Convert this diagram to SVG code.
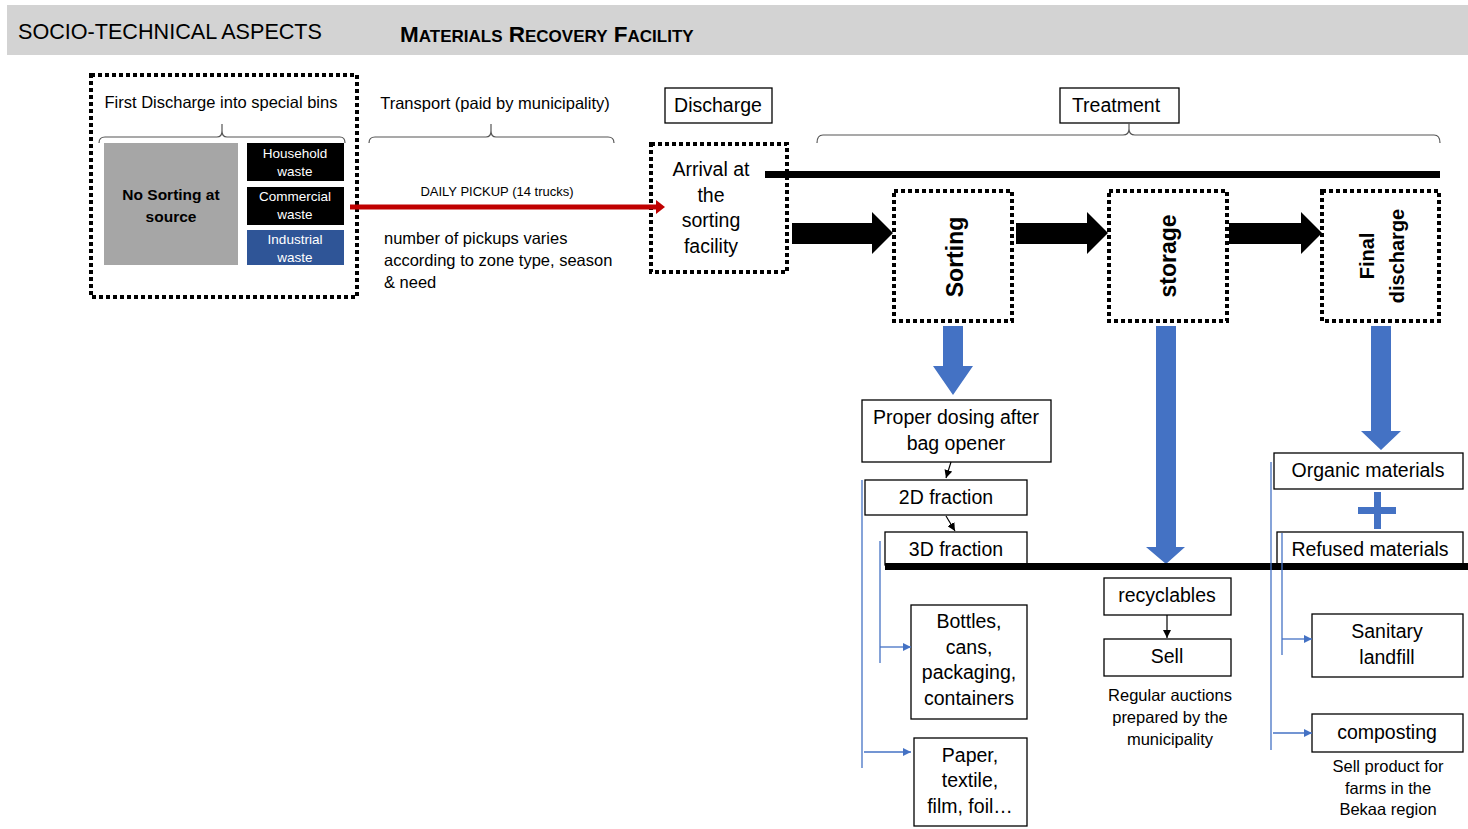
<svg xmlns="http://www.w3.org/2000/svg" width="1468" height="829" viewBox="0 0 1468 829">
<style>
text{font-family:"Liberation Sans",Arial,sans-serif;fill:#000}
.box{fill:#fff;stroke:#000;stroke-width:1.3}
.dot{fill:#fff;stroke:#000;stroke-width:4;stroke-dasharray:4 3}
.brace{fill:none;stroke:#555;stroke-width:1.2}
.t17{font-size:19.5px;text-anchor:middle}
.t14{font-size:16.5px;text-anchor:middle}
.w12{font-size:13.5px;text-anchor:middle;fill:#fff}
.vt{font-size:23px;font-weight:bold;text-anchor:middle}
.blue{fill:#4472c4}
.bl{stroke:#4472c4;stroke-width:1.3;fill:none}
.thin{stroke:#000;stroke-width:1.2;fill:none}
</style>
<defs>
<marker id="ba" viewBox="0 0 10 10" refX="10" refY="5" markerWidth="8" markerHeight="8" markerUnits="userSpaceOnUse" orient="auto"><path d="M0,0 L10,5 L0,10 z" fill="#4472c4"/></marker>
<marker id="ka" viewBox="0 0 10 10" refX="10" refY="5" markerWidth="8" markerHeight="8" markerUnits="userSpaceOnUse" orient="auto"><path d="M0,0 L10,5 L0,10 z" fill="#000"/></marker>
</defs>

<g id="header">
<rect x="7" y="5" width="1461" height="50" fill="#d3d3d3"/>
<text x="18" y="39" font-size="21.6">SOCIO-TECHNICAL ASPECTS</text>
<text x="400" y="42" font-weight="bold" font-size="22.5">M<tspan font-size="17">ATERIALS</tspan> R<tspan font-size="17">ECOVERY</tspan> F<tspan font-size="17">ACILITY</tspan></text>
</g>

<g id="source">
<rect class="dot" x="91" y="75" width="266" height="222"/>
<text class="t14" x="221" y="108">First Discharge into special bins</text>
<path class="brace" d="M99,143 Q99,137 105,137 H217 Q222,137 222,131 V124 M222,131 Q222,137 227,137 H340 Q345,137 345,143"/>
<rect x="104" y="143" width="134" height="122" fill="#a6a6a6"/>
<text x="171" y="200" font-size="15.5" font-weight="bold" text-anchor="middle">No Sorting at</text>
<text x="171" y="222" font-size="15.5" font-weight="bold" text-anchor="middle">source</text>
</g>
<g id="household"><rect x="247" y="143" width="97" height="38" fill="#000"/><text class="w12" x="295" y="158">Household</text><text class="w12" x="295" y="176">waste</text></g>
<g id="commercial"><rect x="247" y="187" width="97" height="38" fill="#000"/><text class="w12" x="295" y="201">Commercial</text><text class="w12" x="295" y="219">waste</text></g>
<g id="industrial"><rect x="247" y="230" width="97" height="35" fill="#2f5597"/><text class="w12" x="295" y="244">Industrial</text><text class="w12" x="295" y="262">waste</text></g>

<g id="transport">
<text class="t14" x="495" y="109">Transport (paid by municipality)</text>
<path class="brace" d="M369,143 Q369,137 375,137 H486 Q491,137 491,131 V124 M491,131 Q491,137 496,137 H608 Q614,137 614,143"/>
<text x="497" y="196" font-size="13" text-anchor="middle">DAILY PICKUP (14 trucks)</text>
<text x="384" y="244" font-size="16.5">number of pickups varies</text>
<text x="384" y="266" font-size="16.5">according to zone type, season</text>
<text x="384" y="288" font-size="16.5">&amp; need</text>
</g>

<g id="discharge"><rect class="box" x="665" y="88" width="107" height="35"/><text class="t17" x="718" y="112">Discharge</text></g>
<g id="arrival">
<rect class="dot" x="651" y="144" width="136" height="128"/>
<text class="t17" x="711" y="176">Arrival at</text>
<text class="t17" x="711" y="202">the</text>
<text class="t17" x="711" y="227">sorting</text>
<text class="t17" x="711" y="253">facility</text>
</g>

<g id="treatment">
<rect class="box" x="1060" y="88" width="119" height="35"/><text class="t17" x="1116" y="112">Treatment</text>
<path class="brace" d="M817,143 Q817,135 823,135 H1123 Q1129,135 1129,129 V123 M1129,129 Q1129,135 1135,135 H1434 Q1440,135 1440,143"/>
</g>

<g id="sorting"><rect class="dot" x="894" y="191" width="118" height="130"/><text class="vt" transform="translate(955,257) rotate(-90)" dominant-baseline="central">Sorting</text></g>
<g id="storage"><rect class="dot" x="1109" y="191" width="118" height="130"/><text class="vt" transform="translate(1168,256) rotate(-90)" dominant-baseline="central">storage</text></g>
<g id="final"><rect class="dot" x="1322" y="191" width="117" height="130"/><text class="vt" font-size="20" transform="translate(1367,256) rotate(-90)" dominant-baseline="central" style="font-size:20px">Final</text><text class="vt" transform="translate(1397,256) rotate(-90)" dominant-baseline="central" style="font-size:20px">discharge</text></g>

<g id="proper"><rect class="box" x="862" y="400" width="189" height="62"/><text class="t17" x="956" y="424">Proper dosing after</text><text class="t17" x="956" y="450">bag opener</text></g>
<g id="frac2d"><rect class="box" x="865" y="480" width="162" height="35"/><text class="t17" x="946" y="504">2D fraction</text></g>
<g id="frac3d"><rect class="box" x="885" y="532" width="142" height="33"/><text class="t17" x="956" y="556">3D fraction</text></g>
<g id="bottles"><rect class="box" x="911" y="605" width="116" height="114"/><text class="t17" x="969" y="628">Bottles,</text><text class="t17" x="969" y="654">cans,</text><text class="t17" x="969" y="679">packaging,</text><text class="t17" x="969" y="705">containers</text></g>
<g id="paper"><rect class="box" x="914" y="738" width="113" height="88"/><text class="t17" x="970" y="762">Paper,</text><text class="t17" x="970" y="787">textile,</text><text class="t17" x="970" y="813">film, foil…</text></g>
<g id="recyclables"><rect class="box" x="1104" y="578" width="127" height="37"/><text class="t17" x="1167" y="602">recyclables</text></g>
<g id="sell"><rect class="box" x="1104" y="639" width="127" height="37"/><text class="t17" x="1167" y="663">Sell</text>
<text class="t14" x="1170" y="701">Regular auctions</text><text class="t14" x="1170" y="723">prepared by the</text><text class="t14" x="1170" y="745">municipality</text></g>
<g id="organic"><rect class="box" x="1274" y="453" width="189" height="36"/><text class="t17" x="1368" y="477">Organic materials</text></g>
<g id="refused"><rect class="box" x="1277" y="532" width="186" height="33"/><text class="t17" x="1370" y="556">Refused materials</text></g>
<g id="landfill"><rect class="box" x="1312" y="614" width="151" height="63"/><text class="t17" x="1387" y="638">Sanitary</text><text class="t17" x="1387" y="664">landfill</text></g>
<g id="composting"><rect class="box" x="1312" y="714" width="151" height="38"/><text class="t17" x="1387" y="739">composting</text>
<text class="t14" x="1388" y="772">Sell product for</text><text class="t14" x="1388" y="794">farms in the</text><text class="t14" x="1388" y="815">Bekaa region</text></g>

<g id="connectors">
<line x1="350" y1="207" x2="657" y2="207" stroke="#c00000" stroke-width="5"/>
<polygon points="656,200 665,207 656,214" fill="#c00000"/>
<rect x="765" y="171" width="675" height="7" fill="#000"/>
<polygon points="792,223 872,223 872,212 893,233 872,254 872,244 792,244" fill="#000"/>
<polygon points="1016,223 1087,223 1087,212 1108,233 1087,254 1087,244 1016,244" fill="#000"/>
<polygon points="1229,223 1301,223 1301,212 1322,233 1301,254 1301,244 1229,244" fill="#000"/>
<polygon class="blue" points="943,326 963,326 963,366 973,366 953,395 933,366 943,366"/>
<polygon class="blue" points="1156,326 1176,326 1176,547 1185,547 1166,564 1146,547 1156,547"/>
<polygon class="blue" points="1371,326 1391,326 1391,431 1401,431 1381,450 1361,431 1371,431"/>
<rect x="1358" y="507" width="38" height="7" class="blue"/>
<rect x="1374" y="492" width="7" height="37" class="blue"/>
<rect x="885" y="563" width="583" height="7" fill="#000"/>
<line class="thin" x1="951" y1="462" x2="946" y2="478" marker-end="url(#ka)"/>
<line class="thin" x1="946" y1="516" x2="955" y2="531" marker-end="url(#ka)"/>
<line class="thin" x1="1167" y1="615" x2="1167" y2="638" marker-end="url(#ka)"/>
<line class="bl" x1="862" y1="480" x2="862" y2="768"/>
<line class="bl" x1="880" y1="541" x2="880" y2="663"/>
<line class="bl" x1="880" y1="647" x2="911" y2="647" marker-end="url(#ba)"/>
<line class="bl" x1="864" y1="752" x2="911" y2="752" marker-end="url(#ba)"/>
<line class="bl" x1="1271" y1="462" x2="1271" y2="750"/>
<line class="bl" x1="1282" y1="533" x2="1282" y2="655"/>
<line class="bl" x1="1282" y1="639" x2="1312" y2="639" marker-end="url(#ba)"/>
<line class="bl" x1="1273" y1="733" x2="1312" y2="733" marker-end="url(#ba)"/>
</g>
</svg>
